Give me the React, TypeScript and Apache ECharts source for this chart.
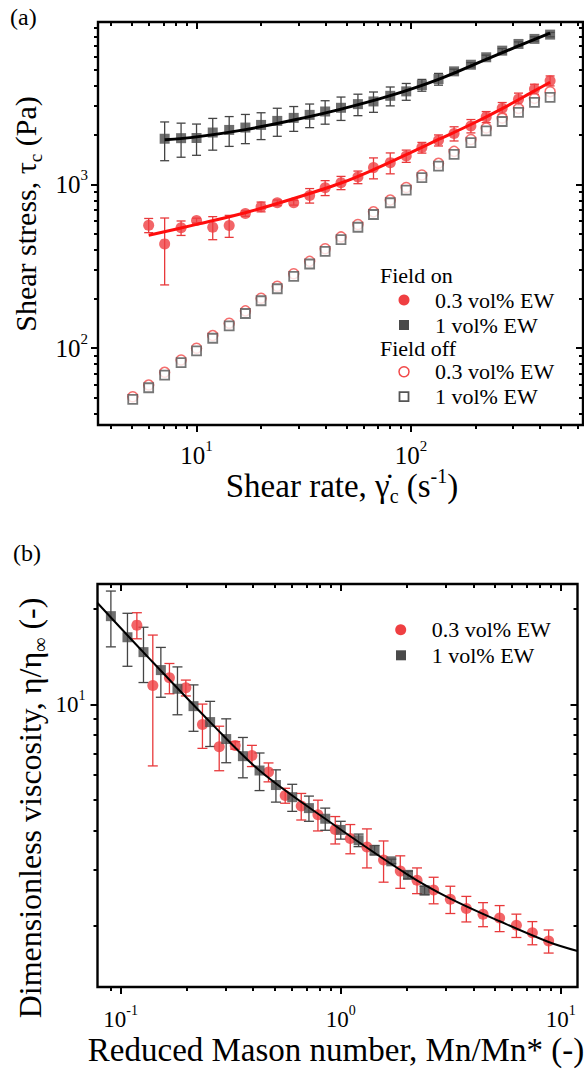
import React, { useEffect, useRef } from 'react';
import * as echarts from 'echarts';

const FONT = "'Liberation Serif', 'Times New Roman', serif";

// ---------- Panel (a): shear stress vs shear rate ----------
const aShearRate = [5.04, 5.98, 7.1, 8.47, 10.0, 11.9, 14.2, 16.9, 20.0, 23.8, 28.4, 33.7, 39.8, 47.2, 56.6, 66.9, 80.1, 95.1, 112.5, 134.5, 159, 190.5, 224.5, 266.6, 317.6, 377, 446];
const aOffSquare = [48.7, 57.4, 68.6, 81.6, 96.3, 115.1, 136.9, 162.9, 194.9, 230.7, 274.5, 326.8, 390.5, 460.5, 547.7, 655.2, 772.6, 922.8, 1099, 1294, 1527, 1801, 2121, 2421, 2748, 3165, 3396];
const aOffCircle = [50.6, 59.6, 71.3, 84.8, 100, 119.5, 142, 169, 202, 239, 285, 339, 405, 478, 569, 680, 802, 958, 1141, 1345, 1590, 1880, 2210, 2540, 2910, 3350, 3680];
const aOnBlackX = [7.1, 8.47, 10.0, 11.9, 14.2, 16.9, 20.0, 23.8, 28.4, 33.7, 39.8, 47.2, 56.6, 66.9, 80.1, 95.1, 112.5, 134.5, 159, 190.5, 224.5, 266.6, 317.6, 377, 446];
const aOnBlackY = [1900, 1915, 1920, 2073, 2150, 2223, 2307, 2441, 2547, 2657, 2786, 2935, 3090, 3209, 3473, 3696, 4039, 4395, 4898, 5376, 5970, 6552, 7199, 7727, 8208];
const aOnBlackErr = [505, 450, 415, 455, 444, 450, 430, 475, 440, 437, 455, 478, 463, 455, 458, 435, 334, 362, 150, 160, 180, 190, 210, 230, 250];
const aOnRedX = [5.98, 7.1, 8.47, 10.0, 11.9, 14.2, 16.9, 20.0, 23.8, 28.4, 33.7, 39.8, 47.2, 56.6, 66.9, 80.1, 95.1, 112.5, 134.5, 159, 190.5, 224.5, 266.6, 317.6, 377, 446];
const aOnRedY = [563.5, 433.5, 543, 602, 547.7, 561, 664, 730, 772.6, 772.6, 856, 954.5, 1024, 1108, 1266, 1358, 1491, 1678, 1860, 2044, 2275, 2583, 2920, 3315, 3817, 4292];
const aOnRedErr = [56, 190, 55, 20, 88, 86, 25, 50, 30, 25, 87, 100, 95, 98, 185, 198, 128, 126, 144, 203, 213, 200, 240, 292, 270, 300];
const aFitBlackX = [7.1, 10, 16.9, 28.4, 47.2, 80.1, 134.5, 224.5, 317.6, 446];
const aFitBlackY = [1870, 1950, 2160, 2470, 2880, 3480, 4380, 5800, 7000, 8380];
const aFitRedX = [5.98, 10, 16.9, 28.4, 47.2, 66.9, 95.1, 134.5, 190.5, 266.6, 377, 446];
const aFitRedY = [489, 570, 672, 820, 1020, 1230, 1520, 1880, 2320, 2900, 3720, 4200];

// ---------- Panel (b): dimensionless viscosity vs reduced Mason number ----------
const bBlackX = [0.0903, 0.1074, 0.127, 0.1523, 0.1812, 0.2143, 0.255, 0.3017, 0.3593, 0.4276, 0.5076, 0.6019, 0.7169, 0.8501, 1.0, 1.205, 1.424, 1.696, 2.021, 2.404];
const bBlackY = [19.0, 16.3, 14.63, 12.84, 11.21, 9.88, 8.8, 7.78, 6.87, 6.19, 5.57, 5.1, 4.71, 4.36, 4.02, 3.73, 3.47, 3.2, 2.9, 2.59];
const bBlackErr = [3.8, 3.1, 2.9, 2.3, 1.93, 1.65, 1.43, 1.23, 1.0, 0.84, 0.65, 0.5, 0.43, 0.35, 0.26, 0.17, 0.12, 0.05, 0.08, 0.08];
const bRedX = [0.1185, 0.14, 0.1666, 0.1978, 0.2353, 0.2804, 0.3315, 0.3948, 0.4696, 0.5592, 0.6614, 0.7877, 0.944, 1.105, 1.315, 1.565, 1.864, 2.221, 2.642, 3.146, 3.72, 4.43, 5.27, 6.28, 7.42, 8.8];
const bRedY = [17.8, 11.48, 12.14, 11.29, 8.65, 7.36, 7.43, 6.9, 6.12, 5.16, 4.78, 4.49, 4.03, 3.78, 3.55, 3.23, 2.98, 2.79, 2.6, 2.43, 2.27, 2.18, 2.12, 2.01, 1.905, 1.793];
const bRedErr = [1.68, 5.08, 1.33, 0.65, 1.38, 1.18, 0.2, 0.53, 0.42, 0.28, 0.46, 0.5, 0.4, 0.4, 0.5, 0.48, 0.35, 0.26, 0.25, 0.24, 0.21, 0.19, 0.2, 0.17, 0.16, 0.15];
const bFitX = [0.0785, 0.127, 0.255, 0.4276, 0.85, 2.02, 3.146, 5.27, 8.8, 11.9];
const bFitY = [20.9, 14.6, 8.8, 6.19, 4.36, 2.9, 2.44, 2.07, 1.78, 1.667];

// ---------- axis ticks ----------
const aXMajor = [10, 100];
const aXMinor = [4, 5, 6, 7, 8, 9, 20, 30, 40, 50, 60, 70, 80, 90, 200, 300, 400, 500, 600];
const aYMajor = [100, 1000];
const aYMinor = [40, 50, 60, 70, 80, 90, 200, 300, 400, 500, 600, 700, 800, 900, 2000, 3000, 4000, 5000, 6000, 7000, 8000, 9000];
const bXMajor = [0.1, 1, 10];
const bXMinor = [0.09, 0.2, 0.3, 0.4, 0.5, 0.6, 0.7, 0.8, 0.9, 2, 3, 4, 5, 6, 7, 8, 9];
const bYMajor = [10];
const bYMinor = [2, 3, 4, 5, 6, 7, 8, 9, 20];

const RED = '#ef3f42';
const RED_LINE = '#ff0d0d';
const GRAY = '#4a4a4a';

function sideAxes(grid: number, pos: string, min: number, max: number, majors: number[], minors: number[], label: any) {
  const inside = pos === 'top' || pos === 'right';
  const base = {
    type: 'log', logBase: 10, gridIndex: grid, position: pos, min, max,
    axisLine: { show: false }, splitLine: { show: false },
    minorTick: { show: false }, minorSplitLine: { show: false }, z: 6,
  };
  const major = {
    ...base,
    axisTick: { show: true, inside, length: 7, customValues: majors, lineStyle: { color: '#000', width: 2 } },
    axisLabel: label
      ? {
          show: true, customValues: majors, margin: label.margin,
          formatter: (v: number) => `{b|10}{s|${Math.round(Math.log10(v))}}`,
          rich: {
            b: { fontFamily: FONT, fontSize: label.size, color: '#000', lineHeight: label.lh },
            s: { fontFamily: FONT, fontSize: label.sup, color: '#000', lineHeight: label.sup, verticalAlign: 'top' },
          },
        }
      : { show: false },
  };
  const minor = {
    ...base,
    axisTick: { show: true, inside, length: 4, customValues: minors, lineStyle: { color: '#000', width: 2 } },
    axisLabel: { show: false },
  };
  return [major, minor];
}

function errSeries(xs: number[], ys: number[], errs: number[], color: string, xi: number, yi: number, cap: number) {
  const data = xs.map((x, i) => [x, ys[i], ys[i] - errs[i], ys[i] + errs[i]]);
  return {
    type: 'custom', xAxisIndex: xi, yAxisIndex: yi, data, encode: { x: 0, y: 1 }, silent: true, z: 2,
    renderItem: (_p: any, api: any) => {
      const x = api.value(0);
      const p1 = api.coord([x, api.value(2)]);
      const p2 = api.coord([x, api.value(3)]);
      const st = { stroke: color, lineWidth: 1.3 };
      return {
        type: 'group',
        children: [
          { type: 'line', shape: { x1: p1[0], y1: p1[1], x2: p2[0], y2: p2[1] }, style: st },
          { type: 'line', shape: { x1: p1[0] - cap, y1: p1[1], x2: p1[0] + cap, y2: p1[1] }, style: st },
          { type: 'line', shape: { x1: p2[0] - cap, y1: p2[1], x2: p2[0] + cap, y2: p2[1] }, style: st },
        ],
      };
    },
  };
}

function scatter(xs: number[], ys: number[], xi: number, yi: number, symbol: string, size: number, itemStyle: any, z = 3) {
  return {
    type: 'scatter', xAxisIndex: xi, yAxisIndex: yi, symbol, symbolSize: size, itemStyle, z, silent: true,
    data: xs.map((x, i) => [x, ys[i]]),
  };
}

function fitLine(xs: number[], ys: number[], xi: number, yi: number, color: string, width: number) {
  return {
    type: 'line', xAxisIndex: xi, yAxisIndex: yi, showSymbol: false, smooth: 0.35, silent: true, z: 4,
    lineStyle: { color, width }, data: xs.map((x, i) => [x, ys[i]]),
  };
}

const titleRich = (size: number) => ({
  m: { fontFamily: FONT, fontSize: size, color: '#000', lineHeight: 40 },
  sub: { fontFamily: FONT, fontSize: Math.round(size * 0.62), color: '#000', lineHeight: 20, verticalAlign: 'bottom' },
  sup: { fontFamily: FONT, fontSize: Math.round(size * 0.62), color: '#000', lineHeight: 20, verticalAlign: 'top' },
});

function txt(text: string, x: number, y: number, size: number, align = 'left') {
  return { type: 'text', x, y, style: { text, fontFamily: FONT, fontSize: size, fill: '#000', align, verticalAlign: 'middle' } };
}

const labA = { size: 25, sup: 15, lh: 34 };
const labB = { size: 23, sup: 14, lh: 32 };

const option: any = {
  animation: false,
  backgroundColor: '#fff',
  grid: [
    { left: 98, top: 22, width: 485, height: 403, show: true, borderColor: '#000', borderWidth: 2.4, backgroundColor: 'transparent' },
    { left: 97.5, top: 584, width: 480, height: 403, show: true, borderColor: '#000', borderWidth: 2.4, backgroundColor: 'transparent' },
  ],
  xAxis: [
    ...sideAxes(0, 'bottom', 3.47, 635, aXMajor, aXMinor, { ...labA, margin: 13 }),
    ...sideAxes(0, 'top', 3.47, 635, aXMajor, aXMinor, null),
    ...sideAxes(1, 'bottom', 0.0785, 11.9, bXMajor, bXMinor, { ...labB, margin: 16 }),
    ...sideAxes(1, 'top', 0.0785, 11.9, bXMajor, bXMinor, null),
  ],
  yAxis: [
    ...sideAxes(0, 'left', 34, 9800, aYMajor, aYMinor, { ...labA, margin: 10 }),
    ...sideAxes(0, 'right', 34, 9800, aYMajor, aYMinor, null),
    ...sideAxes(1, 'left', 1.284, 24, bYMajor, bYMinor, { ...labB, margin: 12 }),
    ...sideAxes(1, 'right', 1.284, 24, bYMajor, bYMinor, null),
  ],
  series: [
    // panel (a)
    errSeries(aOnBlackX, aOnBlackY, aOnBlackErr, '#444', 0, 0, 4.5),
    errSeries(aOnRedX, aOnRedY, aOnRedErr, '#e8393b', 0, 0, 4.5),
    scatter(aShearRate, aOffCircle, 0, 0, 'circle', 10, { color: '#fff', borderColor: '#f24a4a', borderWidth: 1.5 }),
    scatter(aShearRate, aOffSquare, 0, 0, 'rect', 9, { color: '#fff', borderColor: '#555', borderWidth: 1.8 }),
    scatter(aOnRedX, aOnRedY, 0, 0, 'circle', 11, { color: RED }),
    scatter(aOnBlackX, aOnBlackY, 0, 0, 'rect', 10, { color: GRAY }),
    fitLine(aFitBlackX, aFitBlackY, 0, 0, '#000', 3),
    fitLine(aFitRedX, aFitRedY, 0, 0, RED_LINE, 3),
    // panel (b)
    errSeries(bRedX, bRedY, bRedErr, '#e8393b', 4, 4, 5),
    errSeries(bBlackX, bBlackY, bBlackErr, '#444', 4, 4, 5),
    scatter(bRedX, bRedY, 4, 4, 'circle', 11, { color: RED }),
    scatter(bBlackX, bBlackY, 4, 4, 'rect', 10, { color: GRAY }),
    fitLine(bFitX, bFitY, 4, 4, '#000', 2),
  ],
  graphic: [
    txt('(a)', 10, 17, 24),
    txt('(b)', 13, 553, 24),
    // panel (a) titles
    {
      type: 'text', x: 25, y: 214, rotation: Math.PI / 2,
      style: { text: '{m|Shear stress, \u03C4}{sub|c}{m| (Pa)}', rich: titleRich(30), align: 'center', verticalAlign: 'middle' },
    },
    {
      type: 'text', x: 342, y: 486,
      style: { text: '{m|Shear rate, \u03B3\u0307}{sub|c}{m| (s}{sup|-1}{m|)}', rich: titleRich(33), align: 'center', verticalAlign: 'middle' },
    },
    // panel (b) titles
    {
      type: 'text', x: 30, y: 808, rotation: Math.PI / 2,
      style: { text: '{m|Dimensionless viscosity, \u03B7/\u03B7}{sub|\u221E}{m| (-)}', rich: titleRich(32), align: 'center', verticalAlign: 'middle' },
    },
    {
      type: 'text', x: 336, y: 1050,
      style: { text: 'Reduced Mason number, Mn/Mn* (-)', fontFamily: FONT, fontSize: 33, fill: '#000', align: 'center', verticalAlign: 'middle' },
    },
    // legend (a)
    txt('Field on', 380, 275, 22),
    { type: 'circle', shape: { cx: 404, cy: 300, r: 5.5 }, style: { fill: RED } },
    txt('0.3 vol% EW', 435, 300, 22),
    { type: 'rect', shape: { x: 399, y: 320, width: 10, height: 10 }, style: { fill: GRAY } },
    txt('1 vol% EW', 435, 325, 22),
    txt('Field off', 380, 348, 22),
    { type: 'circle', shape: { cx: 404, cy: 371.7, r: 5 }, style: { fill: '#fff', stroke: '#f24a4a', lineWidth: 1.5 } },
    txt('0.3 vol% EW', 435, 371.7, 22),
    { type: 'rect', shape: { x: 399.5, y: 392.2, width: 9, height: 9 }, style: { fill: '#fff', stroke: '#555', lineWidth: 1.8 } },
    txt('1 vol% EW', 435, 396.7, 22),
    // legend (b)
    { type: 'circle', shape: { cx: 400.7, cy: 629.7, r: 5.5 }, style: { fill: RED } },
    txt('0.3 vol% EW', 431.7, 629.7, 22),
    { type: 'rect', shape: { x: 396, y: 650.3, width: 10, height: 10 }, style: { fill: GRAY } },
    txt('1 vol% EW', 431.7, 655.3, 22),
  ],
};

export default function App() {
  const ref = useRef<HTMLDivElement>(null);
  useEffect(() => {
    const chart = echarts.init(ref.current as HTMLDivElement, null, { renderer: 'svg' });
    chart.setOption(option);
    return () => chart.dispose();
  }, []);
  return (
    <div
      ref={ref}
      style={{ position: 'fixed', left: 0, top: 0, width: 584, height: 1070, background: '#fff' }}
    />
  );
}
